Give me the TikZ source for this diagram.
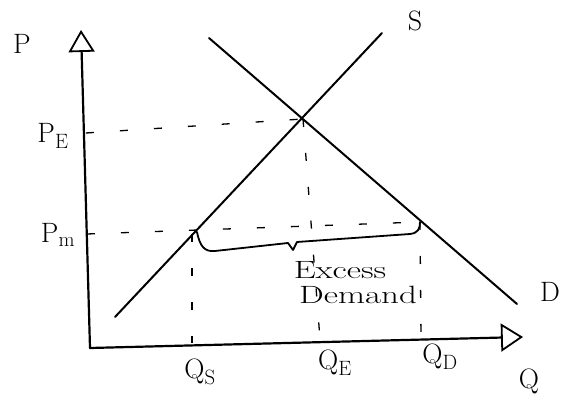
\documentclass[tikz,border=0pt]{standalone}
\usetikzlibrary{arrows.meta}
\begin{document}
\begin{tikzpicture}[x=1pt,y=-1pt,
  axisline/.style={line width=2.2pt, line cap=round},
  curve/.style={line width=2pt, line cap=round},
  guide/.style={line width=1.3pt, dash pattern=on 8pt off 26pt},
  bracepath/.style={line width=1.8pt, line join=round, line cap=round},
  lbl/.style={font=\fontsize{28}{30}\selectfont, inner sep=0pt},
  note/.style={font=\fontsize{25}{27}\selectfont, inner sep=0pt, xscale=1.4}]
\useasboundingbox (0,0) rectangle (570,403);
% key points
\coordinate (O) at (90,348);
\coordinate (Ytip) at (81,30);
\coordinate (Xtip) at (523,337);
\coordinate (S1) at (115,317);
\coordinate (S2) at (382,33);
\coordinate (D1) at (209,38);
\coordinate (D2) at (517,304);
\coordinate (E) at (303,119);
\coordinate (PEa) at (86,133);
\coordinate (PMa) at (87,234);
\coordinate (PMr) at (420,222);
\coordinate (QSt) at (192,234);
\coordinate (QSb) at (192,343);
\coordinate (QEb) at (320,339);
\coordinate (QDb) at (421,338);
% axes
\draw[axisline, -{Triangle[open, length=22pt, width=26pt, line width=1.8pt]}] (O) -- (Ytip);
\draw[axisline, -{Triangle[open, length=22pt, width=28pt, line width=1.8pt]}] (O) -- (Xtip);
% supply and demand
\draw[curve] (S1) -- (S2);
\draw[curve] (D1) -- (D2);
% guides
\draw[guide] (PEa) -- (E);
\draw[guide] (E) -- (QEb);
\draw[guide] (PMa) -- (PMr);
\draw[guide] (QSt) -- (QSb);
\draw[guide] (PMr) -- (QDb);
% brace
\draw[bracepath] (197,232) .. controls (200,247) and (205,252) .. (215,251)
  -- (288,243) -- (293,250) -- (297,242) -- (410,234)
  .. controls (418,233) and (420,229) .. (PMr);
% labels
\node[lbl] (P) at (22,44) {P};
\node[lbl] (PE) at (53,136) {P$_{\mathrm E}$};
\node[lbl] (PM) at (58,235) {P$_{\mathrm m}$};
\node[lbl] (S) at (415,21) {S};
\node[lbl] (D) at (550,292) {D};
\node[lbl] (Q) at (529,381) {Q};
\node[lbl] (QS) at (200,372) {Q$_{\mathrm S}$};
\node[lbl] (QE) at (335,363) {Q$_{\mathrm E}$};
\node[lbl] (QD) at (440,357) {Q$_{\mathrm D}$};
\node[note] (ex) at (340,270) {Excess};
\node[note] (dm) at (358,295) {Demand};
\end{tikzpicture}
\end{document}
